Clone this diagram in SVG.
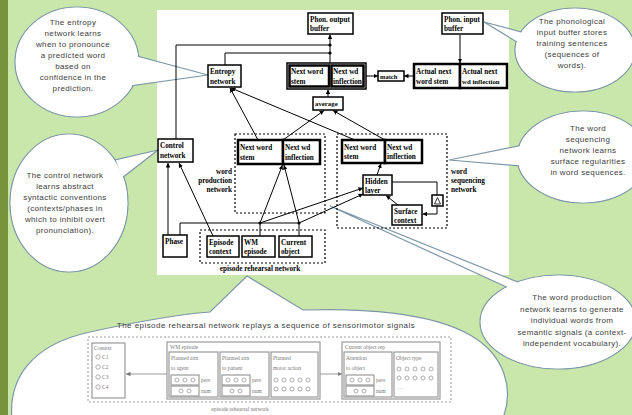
<svg xmlns="http://www.w3.org/2000/svg" width="632" height="415" viewBox="0 0 632 415">
<defs>
<style>
.bub{fill:#fff;stroke:#7d97a8;stroke-width:1.2}
.bubf{fill:#fff;stroke:none}
.bt{font-family:"Liberation Sans",Arial,sans-serif;font-size:8px;letter-spacing:0.35px;fill:#404040;text-anchor:middle}
.n{fill:#fff;stroke:#000;stroke-width:1.5}
.nk{fill:#fff;stroke:#000;stroke-width:2.5}
.t{font-family:"Liberation Serif","Times New Roman",serif;font-size:7.2px;font-weight:bold;fill:#000}
.c{fill:none;stroke:#000;stroke-width:1}
.d{fill:none;stroke:#000;stroke-width:1.2;stroke-dasharray:2,2}
.g{fill:#fff;stroke:#9a9a9a;stroke-width:1.2}
.gl{fill:none;stroke:#9a9a9a;stroke-width:1}
.gd{fill:none;stroke:#9a9a9a;stroke-width:1;stroke-dasharray:2,2}
.gt{font-family:"Liberation Serif","Times New Roman",serif;font-size:5.5px;fill:#777}
.gc{fill:none;stroke:#9a9a9a;stroke-width:0.8}
.dot{fill:#000}
</style>
<marker id="ar" viewBox="0 0 8 8" refX="8" refY="4" markerWidth="4.5" markerHeight="4.5" orient="auto" markerUnits="userSpaceOnUse"><path d="M0,0 L8,4 L0,8 z" fill="#000"/></marker>
<marker id="ag" viewBox="0 0 8 8" refX="8" refY="4" markerWidth="4.5" markerHeight="4.5" orient="auto" markerUnits="userSpaceOnUse"><path d="M0,0 L8,4 L0,8 z" fill="#777"/></marker>
</defs>

<rect x="0" y="0" width="632" height="415" fill="#c9e7ab"/>
<rect x="0" y="0" width="8" height="415" fill="#77933c"/>
<rect id="panel" x="157" y="10" width="352" height="265" fill="#fff"/>

<!-- bottom bubble: episode rehearsal -->
<g id="bubble-episode">
<path class="bub" d="M247,276 L303,310 C360,308 430,312 470,335 C505,355 515,390 502,420 L12,420 C8,380 30,345 90,332 C140,321 185,314 210,312 Z"/>
<text class="bt" x="266" y="328" style="letter-spacing:0.45px">The episode rehearsal network replays a sequence of sensorimotor signals</text>
<rect class="gd" x="88" y="337" width="363" height="65"/>
<g id="ep-context">
<rect class="g" x="92" y="343" width="33" height="55"/>
<text class="gt" x="94" y="350">Context</text>
<circle class="gc" cx="98" cy="357" r="2.2"/><text class="gt" x="102" y="359">C1</text>
<circle class="gc" cx="98" cy="367" r="2.2"/><text class="gt" x="102" y="369">C2</text>
<circle class="gc" cx="98" cy="377" r="2.2"/><text class="gt" x="102" y="379">C3</text>
<circle class="gc" cx="98" cy="387" r="2.2"/><text class="gt" x="102" y="389">C4</text>
</g>
<g id="ep-wm">
<rect class="g" x="167" y="342" width="153" height="57"/>
<text class="gt" x="170" y="349">WM episode</text>
<rect class="g" x="169" y="352" width="49" height="45"/>
<text class="gt" x="171" y="360">Planned attn</text><text class="gt" x="171" y="370">to agent</text>
<rect class="g" x="171" y="375" width="28" height="10"/><circle class="gc" cx="177" cy="380" r="2"/><circle class="gc" cx="185" cy="380" r="2"/><circle class="gc" cx="193" cy="380" r="2"/>
<rect class="g" x="171" y="386" width="28" height="10"/><circle class="gc" cx="181" cy="391" r="2"/><circle class="gc" cx="189" cy="391" r="2"/>
<text class="gt" x="201" y="382">pers</text><text class="gt" x="201" y="393">num</text>
<rect class="g" x="220" y="352" width="49" height="45"/>
<text class="gt" x="222" y="360">Planned attn</text><text class="gt" x="222" y="370">to patient</text>
<rect class="g" x="222" y="375" width="28" height="10"/><circle class="gc" cx="228" cy="380" r="2"/><circle class="gc" cx="236" cy="380" r="2"/><circle class="gc" cx="244" cy="380" r="2"/>
<rect class="g" x="222" y="386" width="28" height="10"/><circle class="gc" cx="232" cy="391" r="2"/><circle class="gc" cx="240" cy="391" r="2"/>
<text class="gt" x="252" y="382">pers</text><text class="gt" x="252" y="393">num</text>
<rect class="g" x="271" y="352" width="47" height="45"/>
<text class="gt" x="273" y="360">Planned</text><text class="gt" x="273" y="370">motor action</text>
<circle class="gc" cx="276" cy="380" r="2"/><circle class="gc" cx="284" cy="380" r="2"/><circle class="gc" cx="292" cy="380" r="2"/><circle class="gc" cx="300" cy="380" r="2"/><circle class="gc" cx="308" cy="380" r="2"/>
<circle class="gc" cx="276" cy="389" r="2"/><circle class="gc" cx="284" cy="389" r="2"/><circle class="gc" cx="292" cy="389" r="2"/><circle class="gc" cx="300" cy="389" r="2"/><circle class="gc" cx="308" cy="389" r="2"/>
</g>
<g id="ep-object">
<rect class="g" x="342" y="342" width="98" height="57"/>
<text class="gt" x="345" y="349">Current object rep</text>
<rect class="g" x="344" y="352" width="48" height="45"/>
<text class="gt" x="346" y="360">Attention</text><text class="gt" x="346" y="370">to object</text>
<rect class="g" x="346" y="375" width="28" height="10"/><circle class="gc" cx="352" cy="380" r="2"/><circle class="gc" cx="360" cy="380" r="2"/><circle class="gc" cx="368" cy="380" r="2"/>
<rect class="g" x="346" y="386" width="28" height="10"/><circle class="gc" cx="356" cy="391" r="2"/><circle class="gc" cx="364" cy="391" r="2"/>
<text class="gt" x="376" y="382">pers</text><text class="gt" x="376" y="393">num</text>
<rect class="g" x="394" y="352" width="44" height="45"/>
<text class="gt" x="396" y="360">Object type</text>
<circle class="gc" cx="399" cy="369" r="2"/><circle class="gc" cx="407" cy="369" r="2"/><circle class="gc" cx="415" cy="369" r="2"/><circle class="gc" cx="423" cy="369" r="2"/><circle class="gc" cx="431" cy="369" r="2"/>
<circle class="gc" cx="399" cy="378" r="2"/><circle class="gc" cx="407" cy="378" r="2"/><circle class="gc" cx="415" cy="378" r="2"/><circle class="gc" cx="423" cy="378" r="2"/><circle class="gc" cx="431" cy="378" r="2"/>
<text class="gt" x="397" y="389" style="fill:#bbb">.....</text>
</g>
<g id="ep-connectors">
<line class="gl" x1="167" y1="374" x2="126" y2="374" marker-end="url(#ag)"/>
<line class="gl" x1="320" y1="374" x2="342" y2="374" marker-end="url(#ag)"/>
</g>
<text class="gt" x="240" y="411" text-anchor="middle">episode rehearsal network</text>
</g>

<g id="bubble-entropy">
<ellipse class="bub" cx="77" cy="62" rx="62" ry="55"/>
<polygon class="bub" points="208,75 133,55 129,86"/>
<ellipse class="bubf" cx="77" cy="62" rx="61.2" ry="54.2"/>
<text class="bt" x="73" y="25">The entropy</text>
<text class="bt" x="73" y="36">network learns</text>
<text class="bt" x="73" y="47">when to pronounce</text>
<text class="bt" x="73" y="58">a predicted word</text>
<text class="bt" x="73" y="69">based on</text>
<text class="bt" x="73" y="80">confidence in the</text>
<text class="bt" x="73" y="91">prediction.</text>
</g>

<g id="bubble-phon">
<ellipse class="bub" cx="575" cy="50" rx="60" ry="42"/>
<polygon class="bub" points="484,22 525,33 530,50"/>
<ellipse class="bubf" cx="575" cy="50" rx="59.2" ry="41.2"/>
<text class="bt" x="572" y="24">The phonological</text>
<text class="bt" x="572" y="35">input buffer stores</text>
<text class="bt" x="572" y="46">training sentences</text>
<text class="bt" x="572" y="57">(sequences of</text>
<text class="bt" x="572" y="68">words).</text>
</g>

<g id="bubble-seq">
<ellipse class="bub" cx="583" cy="157" rx="66" ry="46"/>
<polygon class="bub" points="449,160 523,145 521,166"/>
<ellipse class="bubf" cx="583" cy="157" rx="65.2" ry="45.2"/>
<text class="bt" x="588" y="131">The word</text>
<text class="bt" x="588" y="142">sequencing</text>
<text class="bt" x="588" y="153">network learns</text>
<text class="bt" x="588" y="164">surface regularities</text>
<text class="bt" x="588" y="175">in word sequences.</text>
</g>

<g id="bubble-control">
<ellipse class="bub" cx="69" cy="203" rx="59" ry="69"/>
<polygon class="bub" points="158,150 115,160 122,178"/>
<ellipse class="bubf" cx="69" cy="203" rx="58.2" ry="68.2"/>
<text class="bt" x="65" y="178">The control network</text>
<text class="bt" x="65" y="189">learns abstract</text>
<text class="bt" x="65" y="200">syntactic conventions</text>
<text class="bt" x="65" y="211">(contexts/phases in</text>
<text class="bt" x="65" y="222">which to inhibit overt</text>
<text class="bt" x="65" y="233">pronunciation).</text>
</g>

<g id="bubble-production">
<ellipse class="bub" cx="558" cy="322" rx="78" ry="47"/>
<polygon class="bub" points="330,206 515,291 530,287"/>
<ellipse class="bubf" cx="558" cy="322" rx="77.2" ry="46.2"/>
<text class="bt" x="572" y="300">The word production</text>
<text class="bt" x="572" y="312">network learns to generate</text>
<text class="bt" x="572" y="323">individual words from</text>
<text class="bt" x="572" y="335">semantic signals (a context-</text>
<text class="bt" x="572" y="346">independent vocabulary).</text>
</g>

<!-- connectors -->
<g id="connectors">
<line class="c" x1="330" y1="63" x2="330" y2="34.5" marker-end="url(#ar)"/>
<polyline class="c" points="176,139 176,45 330,45"/>
<polyline class="c" points="225,65 225,53 330,53"/>
<circle class="dot" cx="330" cy="45" r="1.6"/>
<circle class="dot" cx="330" cy="53" r="1.6"/>
<line class="c" x1="366" y1="76" x2="378" y2="76" marker-end="url(#ar)"/>
<line class="c" x1="414" y1="76" x2="404" y2="76" marker-end="url(#ar)"/>
<line class="c" x1="460" y1="35" x2="460" y2="63" marker-end="url(#ar)"/>
<line class="c" x1="328" y1="97" x2="328" y2="89.5" marker-end="url(#ar)"/>
<line class="c" x1="258" y1="140" x2="230" y2="88" marker-end="url(#ar)"/>
<line class="c" x1="355" y1="140" x2="231" y2="88" marker-end="url(#ar)"/>
<line class="c" x1="283" y1="140" x2="324" y2="110.5" marker-end="url(#ar)"/>
<line class="c" x1="385" y1="140" x2="333" y2="110.5" marker-end="url(#ar)"/>
<line class="c" x1="260" y1="223" x2="282.5" y2="165" marker-end="url(#ar)"/>
<line class="c" x1="299" y1="223" x2="284" y2="165" marker-end="url(#ar)"/>
<polyline class="c" points="180,235 180,223 299,223"/>
<line class="c" x1="260" y1="236" x2="260" y2="223"/>
<line class="c" x1="299" y1="236" x2="299" y2="223"/>
<circle class="dot" cx="260" cy="223" r="1.6"/>
<circle class="dot" cx="299" cy="223" r="1.6"/>
<line class="c" x1="260" y1="223" x2="363" y2="188" marker-end="url(#ar)"/>
<line class="c" x1="299" y1="223" x2="363" y2="194" marker-end="url(#ar)"/>
<line class="c" x1="213" y1="236" x2="179" y2="163" marker-end="url(#ar)"/>
<line class="c" x1="168" y1="235" x2="168" y2="163" marker-end="url(#ar)"/>
<line class="c" x1="377" y1="175" x2="381" y2="163.5" marker-end="url(#ar)"/>
<polyline class="c" points="392,182 437,182 437,195"/>
<polyline class="c" points="437,206 437,214 422.5,214" marker-end="url(#ar)"/>
<line class="c" x1="398" y1="205" x2="386" y2="195.5" marker-end="url(#ar)"/>
</g>

<g id="out-buffer"><rect class="n" x="308" y="13" width="45" height="21"/><text class="t" x="310" y="21.5">Phon. output</text><text class="t" x="310" y="30.5">buffer</text></g>
<g id="in-buffer"><rect class="n" x="442" y="13" width="41" height="21"/><text class="t" x="444" y="21.5">Phon. input</text><text class="t" x="444" y="30.5">buffer</text></g>
<g id="entropy"><rect class="n" x="208" y="65" width="33" height="22"/><text class="t" x="210" y="74">Entropy</text><text class="t" x="210" y="83.5">network</text></g>
<g id="next-word">
<rect class="n" x="287" y="63" width="79" height="26"/>
<rect class="nk" x="289.5" y="65.5" width="39.5" height="21"/>
<rect class="nk" x="331.5" y="65.5" width="32" height="21"/>
<text class="t" x="291" y="74">Next word</text><text class="t" x="291" y="83.5">stem</text>
<text class="t" x="333" y="74">Next wd</text><text class="t" x="333" y="83.5">inflection</text>
</g>
<g id="match"><rect class="n" x="378" y="71" width="26" height="10"/><text class="t" x="380" y="78.5" style="font-size:6.5px">match</text></g>
<g id="actual-next">
<rect class="nk" x="414" y="64" width="46" height="24"/>
<rect class="nk" x="460" y="64" width="47" height="24"/>
<text class="t" x="416" y="73.5">Actual next</text><text class="t" x="416" y="83.5">word stem</text>
<text class="t" x="462" y="73.5">Actual next</text><text class="t" x="462" y="83.5" style="font-size:6.8px">wd inflection</text>
</g>
<g id="average"><rect class="n" x="313" y="97" width="30" height="13"/><text class="t" x="315" y="106" style="font-size:6.8px">average</text></g>
<g id="control"><rect class="n" x="158" y="139" width="35" height="23"/><text class="t" x="160" y="148">Control</text><text class="t" x="160" y="157.5">network</text></g>

<g id="word-production-network">
<rect class="d" x="235" y="134" width="90" height="79"/>
<rect class="nk" x="238" y="140" width="45" height="24"/>
<rect class="nk" x="283" y="140" width="37" height="24"/>
<text class="t" x="240" y="149.5">Next word</text><text class="t" x="240" y="159.5">stem</text>
<text class="t" x="285" y="149.5">Next wd</text><text class="t" x="285" y="159.5">inflection</text>
<text class="t" x="232" y="174" text-anchor="end">word</text>
<text class="t" x="232" y="183" text-anchor="end">production</text>
<text class="t" x="232" y="192" text-anchor="end">network</text>
</g>

<g id="word-sequencing-network">
<rect class="d" x="337" y="134" width="110" height="94"/>
<rect class="nk" x="342" y="140" width="43" height="23"/>
<rect class="nk" x="385" y="140" width="37" height="23"/>
<text class="t" x="344" y="149.5">Next word</text><text class="t" x="344" y="159">stem</text>
<text class="t" x="387" y="149.5">Next wd</text><text class="t" x="387" y="159">inflection</text>
<text class="t" x="451" y="174">word</text>
<text class="t" x="451" y="183">sequencing</text>
<text class="t" x="451" y="192">network</text>
</g>
<g id="hidden"><rect class="n" x="363" y="175" width="29" height="20"/><text class="t" x="365" y="184">Hidden</text><text class="t" x="365" y="192.5">layer</text></g>
<g id="surface"><rect class="n" x="392" y="205" width="30" height="20"/><text class="t" x="394" y="214">Surface</text><text class="t" x="394" y="222.5">context</text></g>
<g id="delta"><rect class="n" x="432" y="195" width="11" height="11"/><path d="M434.5,204 L437.5,197.5 L440.5,204 Z" fill="none" stroke="#000" stroke-width="0.8"/></g>

<g id="phase"><rect class="n" x="163" y="235" width="24" height="22"/><text class="t" x="165" y="244">Phase</text></g>
<g id="episode-rehearsal-network">
<rect class="d" x="200" y="230" width="125" height="33"/>
<text class="t" x="260" y="271" text-anchor="middle">episode rehearsal network</text>
</g>
<g id="episode-context"><rect class="n" x="207" y="236" width="32" height="21"/><text class="t" x="209" y="245">Episode</text><text class="t" x="209" y="254">context</text></g>
<g id="wm-episode"><rect class="n" x="242" y="236" width="33" height="21"/><text class="t" x="244" y="245">WM</text><text class="t" x="244" y="254">episode</text></g>
<g id="current-object"><rect class="n" x="279" y="236" width="33" height="21"/><text class="t" x="281" y="245">Current</text><text class="t" x="281" y="254">object</text></g>
</svg>
